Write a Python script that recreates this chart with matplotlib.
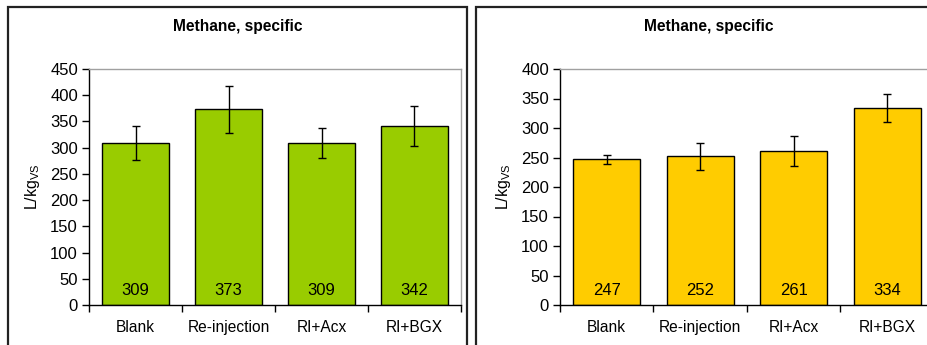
import matplotlib
matplotlib.use("Agg")
import matplotlib.pyplot as plt
from matplotlib.patches import Rectangle

plt.rcParams['font.family'] = ['Liberation Sans', 'DejaVu Sans']
plt.rcParams['mathtext.fontset'] = 'custom'
plt.rcParams['mathtext.rm'] = 'Liberation Sans'
plt.rcParams['mathtext.it'] = 'Liberation Sans'

categories = ["Blank", "Re-injection", "RI+Acx", "RI+BGX"]
left_values = [309, 373, 309, 342]
left_errors = [33, 44.5, 29, 38]
right_values = [247, 252, 261, 334]
right_errors = [7.5, 23, 26, 23]
title = "Methane, specific"
ylabel = "L/kg$_{\\mathrm{VS}}$"

W, H = 928, 345
fig = plt.figure(figsize=(W / 100, H / 100), dpi=100)


def fx(px):
    return px / W


def fy(py):
    return 1 - py / H


def panel(x0, x1, ax_l, ax_r, title_x, values, errors, ymax, color):
    fig.patches.append(Rectangle((fx(x0), fy(360)), fx(x1) - fx(x0), fy(6.5) - fy(360),
                                 transform=fig.transFigure, fill=False,
                                 edgecolor='#222222', linewidth=1.6, clip_on=False))
    fig.text(fx(title_x), fy(27), title, ha='center', va='center',
             fontsize=11.2, fontweight='bold')
    ax = fig.add_axes([fx(ax_l), fy(305), fx(ax_r) - fx(ax_l), fy(69) - fy(305)])
    xs = list(range(len(categories)))
    ax.bar(xs, values, width=0.72, color=color, edgecolor='black', linewidth=1.0, zorder=2)
    ax.errorbar(xs, values, yerr=errors, fmt='none', ecolor='black', elinewidth=1.0,
                capsize=3.2, capthick=1.0, zorder=3)
    for x, v in zip(xs, values):
        ax.annotate(str(v), (x, 0), xytext=(0, 10.5), textcoords='offset points',
                    ha='center', va='center', fontsize=12, zorder=4)
    ax.set_xlim(-0.5, len(categories) - 0.5)
    ax.set_ylim(0, ymax)
    ax.set_yticks(range(0, ymax + 1, 50))
    ax.set_xticks(xs)
    ax.set_xticklabels(categories, fontsize=11.2)
    ax.set_xticks([i - 0.5 for i in range(len(categories) + 1)], minor=True)
    ax.tick_params(axis='x', which='major', length=0, pad=11)
    ax.tick_params(axis='x', which='minor', length=5, width=1, direction='out')
    ax.tick_params(axis='y', length=5, width=1, direction='out', labelsize=12, pad=3)
    for s in ['top', 'right']:
        ax.spines[s].set_color('#a0a0a0')
        ax.spines[s].set_linewidth(1.0)
    for s in ['left', 'bottom']:
        ax.spines[s].set_color('black')
        ax.spines[s].set_linewidth(1.0)
    ax.set_ylabel(ylabel, fontsize=11.5, labelpad=6)
    return ax


axL = panel(7.5, 467, 89, 461, 238, left_values, left_errors, 450, '#99cc00')
axR = panel(476, 945, 560, 934, 709, right_values, right_errors, 400, '#ffcc00')

fig.savefig("out.png", dpi=100)
